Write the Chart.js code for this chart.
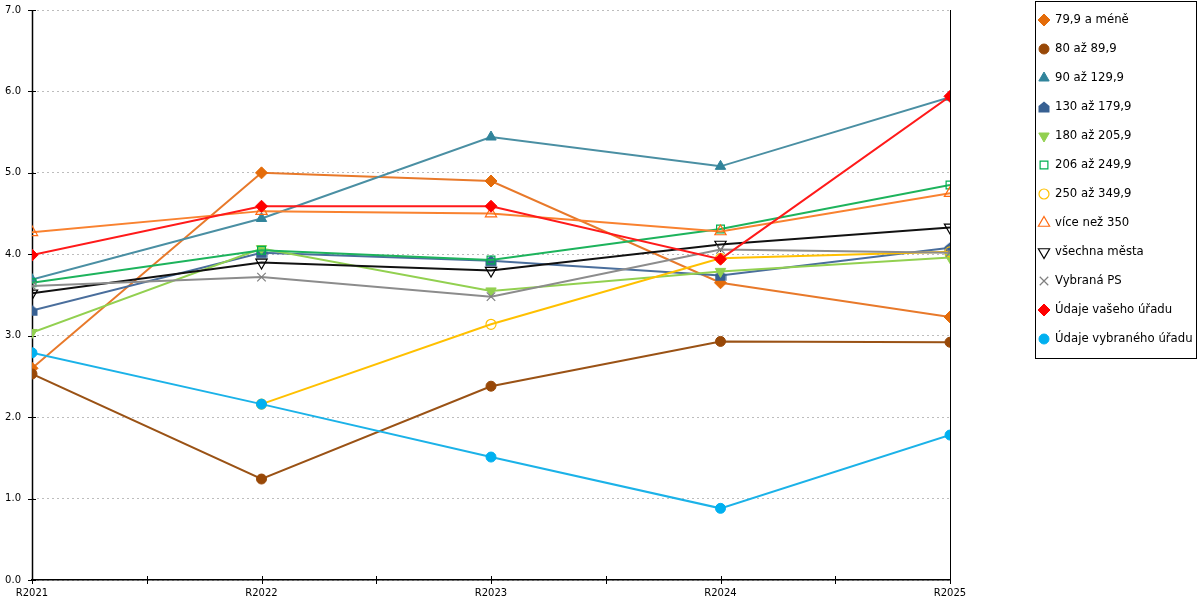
<!DOCTYPE html>
<html>
<head>
<meta charset="utf-8">
<script src="https://cdn.jsdelivr.net/npm/chart.js@4.4.1/dist/chart.umd.min.js"></script>
<style>
html,body{margin:0;padding:0;background:#fff;}
#wrap{width:1200px;height:600px;position:relative;}
</style>
</head>
<body>
<div id="wrap"><canvas id="c" width="1200" height="600"></canvas></div>
<script>
const categories = ['R2021','R2022','R2023','R2024','R2025'];
const seriesNames = ['79,9 a méně','80 až 89,9','90 až 129,9','130 až 179,9','180 až 205,9','206 až 249,9','250 až 349,9','více než 350','všechna města','Vybraná PS','Údaje vašeho úřadu','Údaje vybraného úřadu'];
const s79   = [2.60, 5.00, 4.90, 3.65, 3.23];
const s80   = [2.53, 1.24, 2.38, 2.93, 2.92];
const s90   = [3.69, 4.44, 5.44, 5.08, 5.93];
const s130  = [3.31, 4.02, 3.92, 3.74, 4.08];
const s180  = [3.04, 4.07, 3.55, 3.79, 3.96];
const s206  = [3.65, 4.05, 3.93, 4.31, 4.85];
const s250  = [null, 2.16, 3.14, 3.95, 4.03];
const s350  = [4.27, 4.53, 4.50, 4.28, 4.75];
const sAll  = [3.52, 3.90, 3.80, 4.12, 4.33];
const sPS   = [3.61, 3.72, 3.48, 4.06, 4.02];
const sYour = [3.99, 4.59, 4.59, 3.94, 5.94];
const sSel  = [2.79, 2.16, 1.51, 0.88, 1.78];
const yTicks = [0,1,2,3,4,5,6,7];

// pentagon ("house") marker
function houseMarker(color){
  const cv = document.createElement('canvas');
  cv.width = 12; cv.height = 12;
  const g = cv.getContext('2d');
  g.fillStyle = color;
  g.beginPath();
  g.moveTo(6,0.5); g.lineTo(11.5,5); g.lineTo(11.5,11.5); g.lineTo(0.5,11.5); g.lineTo(0.5,5);
  g.closePath(); g.fill();
  return cv;
}

const styles = [
  {c:'#E46C0A', lc:'#E8792A', ps:'rectRot', r:6, fill:true},
  {c:'#984807', lc:'#9A5215', ps:'circle', r:5, fill:true},
  {c:'#31849B', lc:'#4A8FA3', ps:'triangle', r:6, fill:true},
  {c:'#376092', lc:'#4A6E9C', ps:houseMarker('#376092'), r:6, fill:true},
  {c:'#92D050', lc:'#92D050', ps:'triangle', r:6, fill:true, rot:180},
  {c:'#00B050', lc:'#1DB35C', ps:'rect', r:5.5, fill:false},
  {c:'#FFC000', lc:'#FFC000', ps:'circle', r:5, fill:false},
  {c:'#FF6A10', lc:'#F98230', ps:'triangle', r:6.5, fill:false},
  {c:'#000000', lc:'#111111', ps:'triangle', r:6.5, fill:false, rot:180},
  {c:'#7F7F7F', lc:'#8C8C8C', ps:'crossRot', r:6, fill:false},
  {c:'#FF0000', lc:'#FF1A1A', ps:'rectRot', r:6, fill:true},
  {c:'#00B0F0', lc:'#1BB2E8', ps:'circle', r:5, fill:true}
];
const values = [s79,s80,s90,s130,s180,s206,s250,s350,sAll,sPS,sYour,sSel];

const datasets = values.map((arr,i)=>{
  const s = styles[i];
  return {
    label: seriesNames[i],
    data: arr.map((v,k)=>({x:k, y:v})),
    borderColor: s.lc,
    borderWidth: 2,
    backgroundColor: s.c,
    pointStyle: s.ps,
    pointRadius: s.r,
    pointHoverRadius: s.r,
    pointRotation: s.rot || 0,
    pointBackgroundColor: s.fill ? s.c : 'rgba(0,0,0,0)',
    pointBorderColor: s.c,
    pointBorderWidth: s.fill ? 1 : 1.2,
    tension: 0,
    fill: false,
    order: values.length - i
  };
});

const framePlugin = {
  id:'frame',
  beforeDatasetsDraw(chart){
    const ctx = chart.ctx, a = chart.chartArea;
    const xs = chart.scales.x, ys = chart.scales.y;
    const top = ys.getPixelForValue(7), bottom = ys.getPixelForValue(0);
    ctx.save();
    ctx.strokeStyle = '#000';
    ctx.setLineDash([]);
    ctx.lineWidth = 1.5;
    ctx.beginPath();
    ctx.moveTo(a.left+0.5, top); ctx.lineTo(a.left+0.5, bottom);
    ctx.stroke();
    ctx.lineWidth = 1;
    ctx.beginPath();
    ctx.moveTo(a.right+0.5, top); ctx.lineTo(a.right+0.5, bottom);
    ctx.stroke();
    for(let v=0; v<=4; v+=0.5){
      const px = Math.round(xs.getPixelForValue(v))+0.5;
      ctx.beginPath(); ctx.moveTo(px, bottom-4); ctx.lineTo(px, bottom+4); ctx.stroke();
    }
    yTicks.forEach(v=>{
      const py = Math.round(ys.getPixelForValue(v))+0.5;
      ctx.beginPath(); ctx.moveTo(a.left-4, py); ctx.lineTo(a.left+4, py); ctx.stroke();
    });
    ctx.restore();
  },
  afterDraw(chart){
    const ctx = chart.ctx;
    ctx.save();
    ctx.setLineDash([]);
    ctx.strokeStyle = '#000';
    ctx.lineWidth = 1;
    ctx.strokeRect(1035.5, 1.5, 161, 357);
    ctx.textBaseline = 'middle';
    ctx.textAlign = 'left';
    chart.data.datasets.forEach((ds,i)=>{
      const y = 20 + 29*i;
      ctx.fillStyle = ds.pointBackgroundColor;
      ctx.strokeStyle = ds.pointBorderColor;
      ctx.lineWidth = ds.pointBorderWidth;
      Chart.helpers.drawPoint(ctx, {
        pointStyle: ds.pointStyle,
        radius: ds.pointRadius,
        rotation: ds.pointRotation,
        borderWidth: ds.pointBorderWidth
      }, 1044, y);
      ctx.font = '11.7px "DejaVu Sans"';
      ctx.fillStyle = '#000';
      ctx.fillText(ds.label, 1055, y);
    });
    ctx.restore();
  }
};

Chart.defaults.font.family = '"DejaVu Sans"';
Chart.defaults.font.size = 10;
Chart.defaults.color = '#000';

new Chart(document.getElementById('c'), {
  type:'line',
  data:{datasets},
  options:{
    responsive:false,
    animation:false,
    devicePixelRatio:1,
    layout:{autoPadding:false, padding:{left:0,right:250,top:10,bottom:0}},
    plugins:{legend:{display:false}, tooltip:{enabled:false}},
    scales:{
      x:{
        type:'linear', min:0, max:4,
        afterFit(s){ s.height = 20; },
        afterBuildTicks(s){ s.ticks = [0,0.5,1,1.5,2,2.5,3,3.5,4].map(v=>({value:v})); },
        ticks:{autoSkip:false, maxRotation:0, padding:7,
          callback:(v)=> Number.isInteger(v) ? categories[v] : ''},
        grid:{display:true, drawOnChartArea:false, drawTicks:false},
        border:{display:true, color:'#000', width:1.5}
      },
      y:{
        min:0, max:7,
        afterFit(s){ s.width = 32; s.paddingTop = 0; s.paddingBottom = 0; },
        afterBuildTicks(s){ s.ticks = yTicks.map(v=>({value:v})); },
        ticks:{padding:11, font:{size:10, lineHeight:0.2}, callback:(v)=>v.toFixed(1)},
        grid:{color:'#BDBDBD', lineWidth:1, drawTicks:false},
        border:{display:false, dash:[2,3]}
      }
    }
  },
  plugins:[framePlugin]
});
</script>
</body>
</html>
